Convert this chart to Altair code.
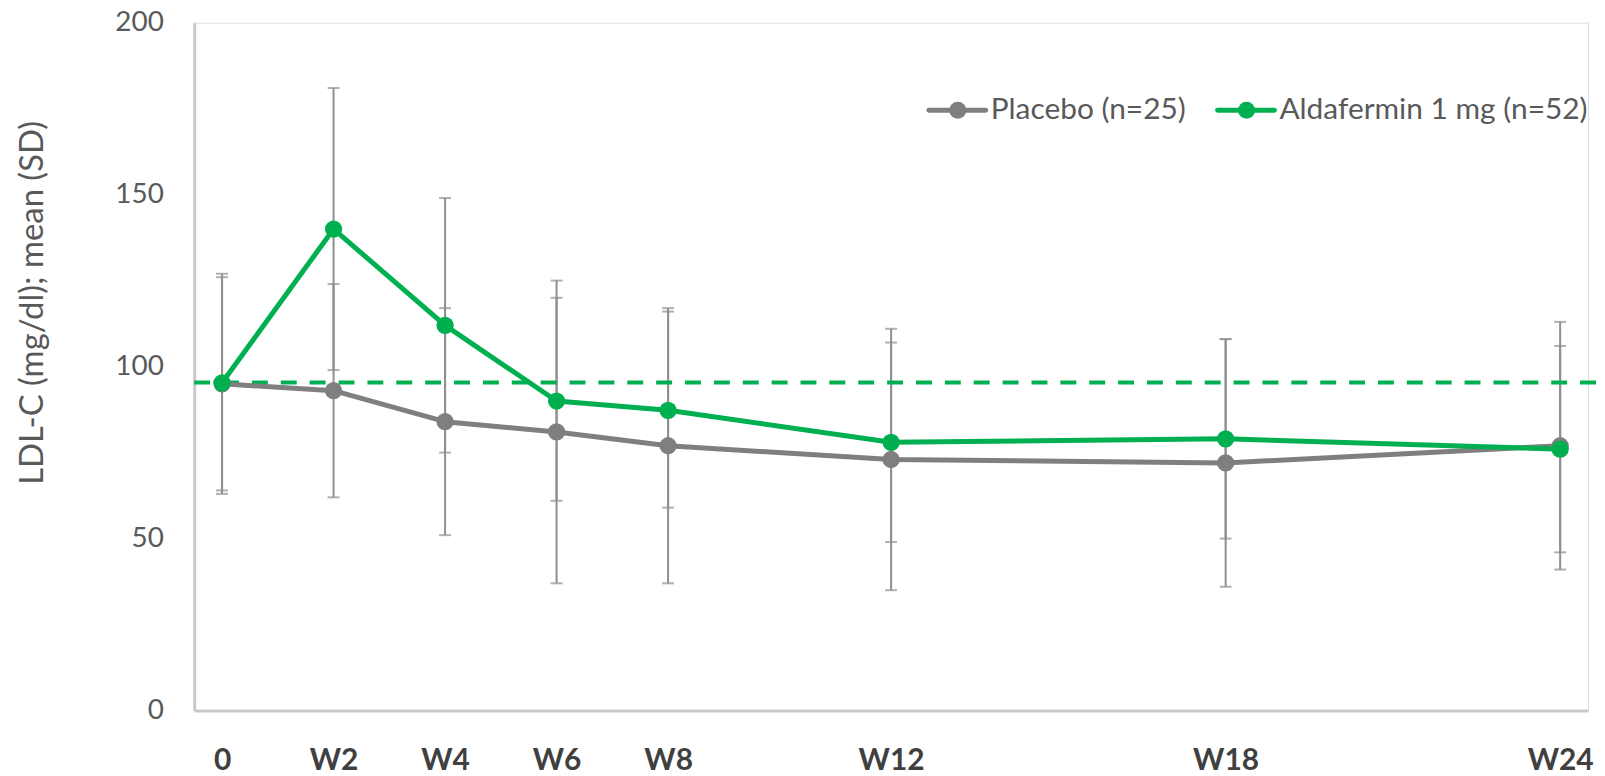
import altair as alt
import pandas as pd

# ---- data ----
weeks = [0, 2, 4, 6, 8, 12, 18, 24]
week_labels = ["0", "W2", "W4", "W6", "W8", "W12", "W18", "W24"]

placebo_mean = [95.0, 93.0, 84.0, 81.0, 77.0, 73.0, 72.0, 77.0]
placebo_low = [64.0, 62.0, 51.0, 37.0, 37.0, 35.0, 36.0, 41.0]
placebo_high = [126.0, 124.0, 117.0, 125.0, 116.0, 111.0, 108.0, 113.0]

alda_mean = [95.3, 140.0, 112.0, 90.0, 87.3, 78.0, 79.0, 76.0]
alda_low = [63.0, 99.0, 75.0, 61.0, 59.0, 49.0, 50.0, 46.0]
alda_high = [127.0, 181.0, 149.0, 120.0, 117.0, 107.0, 108.0, 106.0]

baseline_value = [95.4]

series_names = ["Placebo (n=25)", "Aldafermin 1 mg (n=52)"]
series_colors = ["#7f7f7f", "#00b050"]
errbar_color = "#8f8f8f"

# ---- tables built from the arrays ----
rows = []
for name, means, lows, highs in [
    (series_names[0], placebo_mean, placebo_low, placebo_high),
    (series_names[1], alda_mean, alda_low, alda_high),
]:
    for w, m, lo, hi in zip(weeks, means, lows, highs):
        rows.append({"week": w, "series": name, "mean": m, "low": lo, "high": hi})
df = pd.DataFrame(rows)
df_base = pd.DataFrame({"value": baseline_value})

label_map = "{" + ",".join(f"'{w}':'{l}'" for w, l in zip(weeks, week_labels)) + "}"

W, H = 1400, 691
FONT = "Lato"

xscale = alt.Scale(domain=[-0.5, 24.5], nice=False, zero=False)
yscale = alt.Scale(domain=[0, 200], nice=False)
color_scale = alt.Scale(domain=series_names, range=series_colors)

x_enc = alt.X(
    "week:Q",
    scale=xscale,
    axis=alt.Axis(
        values=weeks,
        labelExpr=f"{label_map}[datum.value + '']",
        title=None,
        ticks=False,
        grid=False,
        domainColor="#c9c9c9",
        domainWidth=3,
        labelFont=FONT,
        labelFontSize=30,
        labelFontWeight="bold",
        labelColor="#404040",
        labelPadding=35,
        labelBaseline="top",
    ),
)
y_axis = alt.Axis(
    values=[0, 50, 100, 150, 200],
    title="LDL-C (mg/dl); mean (SD)",
    titleFont=FONT,
    titleFontSize=33,
    titleFontWeight="normal",
    titleColor="#595959",
    titleAngle=270,
    titleX=-162,
    titleY=281,
    titleAlign="center",
    titleBaseline="middle",
    ticks=False,
    grid=False,
    domainColor="#c9c9c9",
    domainWidth=3,
    labelFont=FONT,
    labelFontSize=28,
    labelColor="#595959",
    labelPadding=31,
)

base = alt.Chart(df)

err_rule = base.mark_rule(color=errbar_color, strokeWidth=2).encode(
    x=x_enc,
    y=alt.Y("low:Q", scale=yscale, axis=y_axis),
    y2="high:Q",
)
cap_low = base.mark_tick(color=errbar_color, orient="horizontal", size=12, thickness=2).encode(
    x=alt.X("week:Q", scale=xscale), y=alt.Y("low:Q", scale=yscale)
)
cap_high = base.mark_tick(color=errbar_color, orient="horizontal", size=12, thickness=2).encode(
    x=alt.X("week:Q", scale=xscale), y=alt.Y("high:Q", scale=yscale)
)

dashed = alt.Chart(df_base).mark_rule(
    color="#00b050", strokeWidth=4, strokeDash=[16, 13]
).encode(
    y=alt.Y("value:Q", scale=yscale),
    x=alt.value(0),
    x2=alt.value(1410),
)

lines = base.mark_line(strokeWidth=5, strokeJoin="round", strokeCap="round").encode(
    x=alt.X("week:Q", scale=xscale),
    y=alt.Y("mean:Q", scale=yscale),
    color=alt.Color("series:N", scale=color_scale, legend=None),
    detail="series:N",
)
points = base.mark_circle(size=300, opacity=1).encode(
    x=alt.X("week:Q", scale=xscale),
    y=alt.Y("mean:Q", scale=yscale),
    color=alt.Color("series:N", scale=color_scale, legend=None),
)

# ---- manual legend (layout positions in pixels) ----
def legend_item(name, color, x0):
    d = pd.DataFrame({"label": [name]})
    ly = 88
    seg = alt.Chart(d).mark_rule(color=color, strokeWidth=5, strokeCap="round").encode(
        x=alt.value(x0), x2=alt.value(x0 + 57), y=alt.value(ly)
    )
    dot = alt.Chart(d).mark_circle(color=color, size=290, opacity=1).encode(
        x=alt.value(x0 + 29), y=alt.value(ly)
    )
    txt = alt.Chart(d).mark_text(
        align="left", baseline="middle", font=FONT, fontSize=30, color="#595959"
    ).encode(x=alt.value(x0 + 62), y=alt.value(ly), text="label:N")
    return [seg, dot, txt]

legend_layers = legend_item(series_names[0], series_colors[0], 738) + legend_item(
    series_names[1], series_colors[1], 1028
)

chart = (
    alt.layer(err_rule, cap_low, cap_high, dashed, lines, points, *legend_layers)
    .properties(
        width=W,
        height=H,
        autosize=alt.AutoSizeParams(type="none"),
        padding={"left": 187, "top": 13, "right": 9, "bottom": 64},
        background="white",
    )
    .configure_view(stroke=None)
    .configure(font=FONT)
)

chart.save("out.html", embed_options={"renderer": "svg", "actions": False})
